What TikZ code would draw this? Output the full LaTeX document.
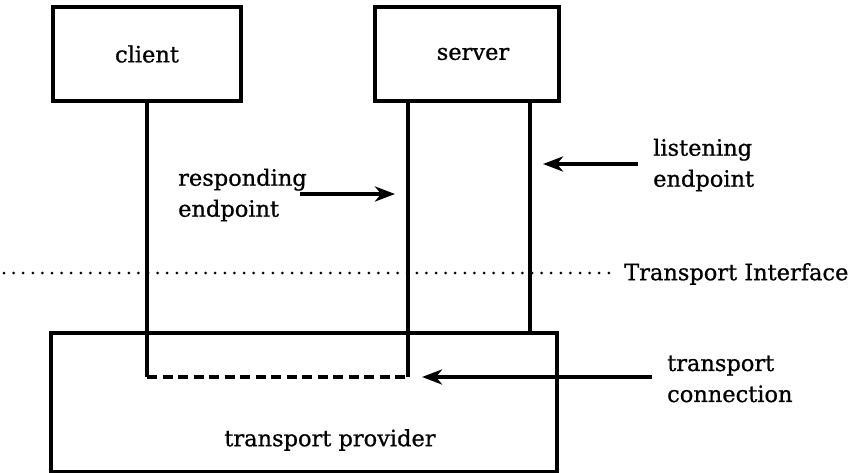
\documentclass[tikz,border=0pt]{standalone}
\usepackage{fontspec}
\setmainfont{DejaVu Serif}
\newfontfamily\lblfont[FakeBold=0.8]{DejaVu Serif}
\usetikzlibrary{arrows.meta,positioning}
\tikzstyle{box} = [rectangle, draw, line width=3.5pt, minimum height=94pt, inner sep=0pt, font=\lblfont\fontsize{22.5}{31}\selectfont]
\tikzstyle{lbl} = [inner sep=0pt, align=left, font=\lblfont\fontsize{22.5}{31}\selectfont]
\tikzstyle{wire} = [draw, line width=3.5pt]
\tikzstyle{line} = [draw, line width=3.5pt, -{Stealth[length=20pt,width=15pt,inset=6pt]}]
\tikzstyle{iface} = [draw, line width=3pt, line cap=round, dash pattern=on 0pt off 9.6pt]

\begin{document}
\begin{tikzpicture}[x=1pt, y=-1pt]
    \useasboundingbox (0,0) rectangle (853,473);
    \node [box, minimum width=188pt] at (147,54) (client) {client};
    \node [box, minimum width=184pt, right=130.5pt of client] (server) {\hspace{12pt}server};
    \node [box, minimum width=506pt, minimum height=139pt] at (304,402.5) (prov) {};
    \node [lbl] at (330,440) (provtxt) {transport provider};
    % endpoints down into the provider
    \coordinate (cend) at (client.south |- 0,377);
    \coordinate (stop) at ([xshift=-59pt]server.south);
    \coordinate (send) at (stop |- cend);
    \coordinate (ltop) at ([xshift=63pt]server.south);
    \path [wire] (client.south) -- (cend);
    \path [wire] (stop) -- (send);
    \path [wire] (ltop) -- (ltop |- prov.north);
    \path [wire, dash pattern=on 10pt off 5.5pt] (cend) -- (send);
    % labels
    \node [lbl, anchor=west] at (178,195) (resp) {responding\\endpoint};
    \node [lbl, anchor=west] at (653,165) (lsn) {listening\\endpoint};
    \node [lbl, anchor=west] at (624,274) (tif) {Transport Interface};
    \node [lbl, anchor=west] at (667,379) (conn) {transport\\connection};
    \path [line, shorten >=13pt] ([xshift=-7pt]resp.east |- 0,194) -- (stop |- 0,194);
    \path [line, shorten >=13pt] ([xshift=-15pt]lsn.west |- 0,164) -- (ltop |- 0,164);
    \path [line, shorten >=14pt] ([xshift=-15pt]conn.west |- cend) -- (send);
    \coordinate (iface0) at (4,273);
    \path [iface] (iface0) -- ([xshift=-11pt]tif.west |- iface0);
\end{tikzpicture}
\end{document}
